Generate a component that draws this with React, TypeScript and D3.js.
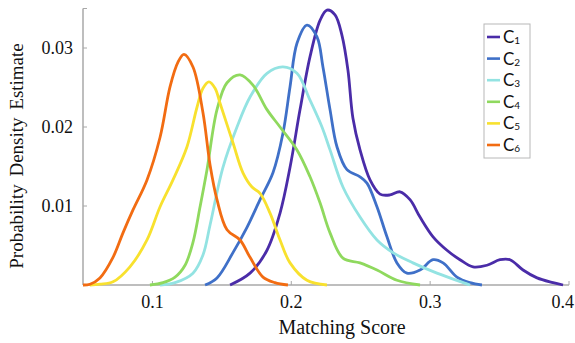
import React from "react";
import * as d3 from "d3";

const W = 575;
const H = 343;

const seriesNames = ["1", "2", "3", "4", "5", "6"];
const seriesColors = ["#4a2ca8", "#3f70c8", "#93e3e2", "#8fd95e", "#f8e12e", "#f26c12"];

const c1x = [0.1559,0.1703,0.1825,0.1919,0.1991,0.2063,0.2135,0.2207,0.2257,0.2315,0.2365,0.2408,0.2444,0.2495,0.2567,0.2639,0.2711,0.2783,0.2855,0.2927,0.3021,0.3121,0.3215,0.3309,0.3409,0.3503,0.3575,0.3669,0.3770,0.3885,0.3957];
const c1y = [0,0.0015,0.0044,0.0091,0.0149,0.0222,0.0289,0.0335,0.0348,0.0342,0.0316,0.0272,0.0211,0.0171,0.0133,0.0115,0.0114,0.0118,0.0108,0.0086,0.0061,0.0044,0.0032,0.0023,0.0025,0.0032,0.0032,0.0019,0.0009,0.0003,0];

const c2x = [0.1379,0.1465,0.1580,0.1681,0.1775,0.1868,0.1940,0.1991,0.2041,0.2113,0.2185,0.2228,0.2279,0.2329,0.2401,0.2495,0.2545,0.2617,0.2689,0.2761,0.2833,0.2927,0.3021,0.3093,0.3193,0.3287,0.3373];
const c2y = [0,0.0009,0.0041,0.0073,0.0108,0.0142,0.0192,0.0251,0.0306,0.0329,0.0314,0.0276,0.0222,0.0175,0.0146,0.0137,0.0129,0.0099,0.0061,0.0028,0.0015,0.0019,0.0032,0.0028,0.0010,0.0003,0];

const c3x = [0.1055,0.1163,0.1292,0.1364,0.1415,0.1508,0.1609,0.1703,0.1825,0.1940,0.2041,0.2135,0.2221,0.2279,0.2372,0.2495,0.2617,0.2732,0.2876,0.3049,0.3237,0.3287];
const c3y = [0,0.0003,0.0015,0.0038,0.0076,0.0149,0.0200,0.0238,0.0268,0.0276,0.0268,0.0234,0.0200,0.0171,0.0124,0.0086,0.0057,0.0041,0.0028,0.0015,0.0003,0];

const c4x = [0.0982,0.1076,0.1163,0.1235,0.1292,0.1343,0.1393,0.1465,0.1537,0.1631,0.1724,0.1825,0.1919,0.2041,0.2135,0.2207,0.2279,0.2372,0.2495,0.2617,0.2761,0.2927];
const c4y = [0,0.0003,0.0010,0.0025,0.0054,0.0099,0.0146,0.0222,0.0256,0.0266,0.0253,0.0222,0.0200,0.0171,0.0137,0.0104,0.0066,0.0034,0.0028,0.0019,0.0006,0];

const c5x = [0.0550,0.0622,0.0716,0.0838,0.0961,0.1055,0.1148,0.1249,0.1321,0.1364,0.1407,0.1451,0.1487,0.1580,0.1652,0.1717,0.1775,0.1847,0.1919,0.1991,0.2113,0.2257];
const c5y = [0,0.0001,0.0004,0.0023,0.0057,0.0099,0.0133,0.0175,0.0225,0.0249,0.0257,0.0249,0.0230,0.0180,0.0142,0.0124,0.0116,0.0091,0.0057,0.0028,0.0006,0];

const c6x = [0.050,0.055,0.0622,0.0716,0.0788,0.0860,0.0961,0.1055,0.1127,0.1184,0.1227,0.1292,0.1364,0.1415,0.1465,0.1537,0.1631,0.1703,0.1796,0.1882,0.1976];
const c6y = [0,0.0001,0.0009,0.0035,0.0066,0.0095,0.0133,0.0187,0.0251,0.0282,0.0292,0.0276,0.0218,0.0152,0.0108,0.0070,0.0057,0.0035,0.0010,0.0003,0];

const seriesX = [c1x, c2x, c3x, c4x, c5x, c6x];
const seriesY = [c1y, c2y, c3y, c4y, c5y, c6y];

const xTicks = [0.1, 0.2, 0.3, 0.4];
const yTicks = [0.01, 0.02, 0.03];

export default function App() {
  const x = d3.scaleLinear().domain([0.05, 0.4]).range([83, 569]);
  const y = d3.scaleLinear().domain([0, 0.035]).range([285, 8.5]);
  const line = d3
    .line<[number, number]>()
    .x((d) => x(d[0]))
    .y((d) => y(d[1]))
    .curve(d3.curveCatmullRom.alpha(0.5));

  const axisColor = "#a8a8a8";
  const serif = "'Liberation Serif', 'Times New Roman', serif";
  const sans = "Lato, 'Open Sans', sans-serif";

  return (
    <svg width={W} height={H} style={{ position: "absolute", left: 0, top: 0, background: "#fff" }}>
      {/* axes */}
      <line x1={x(0.05)} x2={x(0.05)} y1={y(0.035)} y2={y(0)} stroke={axisColor} strokeWidth={1.5} />
      <line x1={x(0.05)} x2={x(0.4)} y1={y(0)} y2={y(0)} stroke={axisColor} strokeWidth={1.5} />
      <line x1={x(0.05)} x2={x(0.05) + 4} y1={y(0.035)} y2={y(0.035)} stroke={axisColor} strokeWidth={1} />
      {yTicks.map((t) => (
        <g key={"y" + t}>
          <line x1={x(0.05)} x2={x(0.05) + 4} y1={y(t)} y2={y(t)} stroke={axisColor} strokeWidth={1} />
          <text x={73} y={y(t) + 6} textAnchor="end" fontFamily={serif} fontSize={18} fill="#111">
            {t.toFixed(2)}
          </text>
        </g>
      ))}
      {xTicks.map((t, i) => {
        const last = i === xTicks.length - 1;
        return (
          <g key={"x" + t}>
            <line x1={x(t)} x2={x(t)} y1={y(0)} y2={y(0) - 4} stroke={axisColor} strokeWidth={1} />
            <text
              x={last ? W - 1 : x(t)}
              y={308}
              textAnchor={last ? "end" : "middle"}
              fontFamily={serif}
              fontSize={18}
              fill="#111"
            >
              {t.toFixed(1)}
            </text>
          </g>
        );
      })}
      {/* curves */}
      {seriesX.map((xs, i) => {
        const pts: [number, number][] = xs.map((v, j) => [v, seriesY[i][j]]);
        return (
          <path key={i} d={line(pts) || ""} fill="none" stroke={seriesColors[i]} strokeWidth={2.8} strokeLinejoin="round" />
        );
      })}
      {/* titles */}
      <text x={342} y={334} textAnchor="middle" fontFamily={serif} fontSize={20} fill="#111">
        Matching Score
      </text>
      <text
        transform={`translate(23,156) rotate(-90)`}
        textAnchor="middle"
        fontFamily={serif}
        fontSize={19}
        fill="#111"
        wordSpacing={3}
      >
        Probability Density Estimate
      </text>
      {/* legend */}
      <rect x={484} y={24} width={46} height={134} fill="#fff" stroke="#b8b8b8" strokeWidth={1} />
      {seriesNames.map((n, i) => {
        const ly = 37 + i * 21.6;
        return (
          <g key={"l" + n}>
            <line x1={487} x2={500} y1={ly} y2={ly} stroke={seriesColors[i]} strokeWidth={2.6} />
            <text x={503} y={ly + 6} fontFamily={sans} fontSize={17} fill="#111">
              C
              <tspan fontSize={10} dy={1}>{n}</tspan>
            </text>
          </g>
        );
      })}
    </svg>
  );
}
